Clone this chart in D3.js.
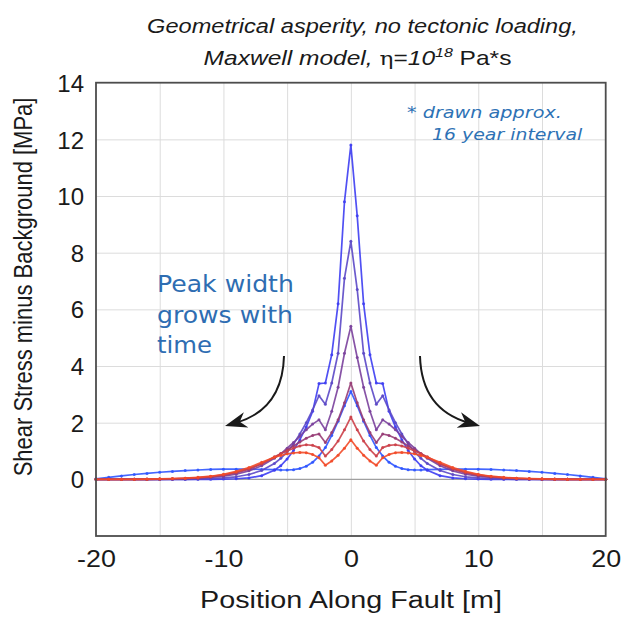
<!DOCTYPE html>
<html><head><meta charset="utf-8">
<script src="https://cdn.jsdelivr.net/npm/d3@7"></script>
<style>
html,body{margin:0;padding:0;background:#fff;}
svg{display:block;}
</style>
</head><body>
<svg id="chart" width="633" height="617"></svg>
<script>
// ---- data ----
const positions = [-20,-19,-18,-17,-16,-15,-14,-13,-12,-11,-10,-9,-8,-7,-6,-5.5,-5,-4.5,-4,-3.5,-3,-2.5,-2,-1.5,-1,-0.5,0,0.5,1,1.5,2,2.5,3,3.5,4,4.5,5,5.5,6,7,8,9,10,11,12,13,14,15,16,17,18,19,20];

const stressA = [0,0,0,0,0,0,0,0,0,0,0.01,0.02,0.05,0.13,0.32, 0.48,0.72,1.02,1.4,1.85,2.4,3.38,3.4,4.4,6.2,9.8, 11.8, 9.3,6.2,4.4,3.4,3.38,2.4,1.85,1.4,1.02,0.72,0.48, 0.32,0.13,0.05,0.02,0.01,0,0,0,0,0,0,0,0,0,0];
const stressB = [0,0,0,0,0,0,0,0,0.01,0.03,0.05,0.09,0.17,0.31,0.56, 0.74,0.97,1.25,1.6,2.0,2.45,2.95,2.65,3.4,4.45,7.1, 8.4, 6.7,4.45,3.4,2.65,2.95,2.45,2.0,1.6,1.25,0.97,0.74, 0.56,0.31,0.17,0.09,0.05,0.03,0.01,0,0,0,0,0,0,0,0];
const stressC = [0,0,0,0,0,0,0.01,0.02,0.04,0.07,0.11,0.18,0.3,0.48,0.74, 0.9,1.1,1.3,1.52,1.75,1.95,2.1,1.75,2.4,3.25,4.45, 5.4, 4.3,3.25,2.4,1.75,2.1,1.95,1.75,1.52,1.3,1.1,0.9, 0.74,0.48,0.3,0.18,0.11,0.07,0.04,0.02,0.01,0,0,0,0,0,0];
const stressD = [0,0,0,0,0,0.01,0.02,0.03,0.05,0.09,0.14,0.23,0.36,0.54,0.77, 0.9,1.04,1.18,1.32,1.45,1.55,1.6,1.3,1.65,2.1,2.7, 3.4, 2.7,2.1,1.65,1.3,1.6,1.55,1.45,1.32,1.18,1.04,0.9, 0.77,0.54,0.36,0.23,0.14,0.09,0.05,0.03,0.02,0.01,0,0,0,0,0];
const stressE = [0,0,0,0,0,0.01,0.02,0.04,0.06,0.1,0.16,0.25,0.38,0.55,0.8, 0.9,1.0,1.1,1.18,1.22,1.2,1.12,0.82,1.05,1.35,1.75, 2.2, 1.75,1.35,1.05,0.82,1.12,1.2,1.22,1.18,1.1,1.0,0.9, 0.8,0.55,0.38,0.25,0.16,0.1,0.06,0.04,0.02,0.01,0,0,0,0,0];
const stressF = [0,0,0,0,0.01,0.02,0.03,0.04,0.07,0.11,0.18,0.28,0.42,0.6,0.78, 0.84,0.9,0.93,0.95,0.94,0.88,0.76,0.5,0.65,0.85,1.1, 1.4, 1.1,0.85,0.65,0.5,0.76,0.88,0.94,0.95,0.93,0.9,0.84, 0.78,0.6,0.42,0.28,0.18,0.11,0.07,0.04,0.03,0.02,0.01,0,0,0,0];
const stressG = [0.02,0.07,0.12,0.17,0.21,0.25,0.28,0.31,0.33,0.35,0.36,0.36,0.36,0.35,0.34, 0.33,0.33,0.34,0.38,0.46,0.6,0.82,1.12,1.55,2.05,2.6, 3.1, 2.6,2.05,1.55,1.12,0.82,0.6,0.46,0.38,0.34,0.33,0.33, 0.34,0.35,0.36,0.36,0.36,0.35,0.33,0.31,0.28,0.25,0.21,0.17,0.12,0.07,0.02];

const seriesNames = ["G","A","B","C","D","E","F"];
const seriesValues = [stressG, stressA, stressB, stressC, stressD, stressE, stressF];
const seriesColors = ["#2f55ff","#3d3df2","#5b48c6","#7a409c","#973c76","#cc4049","#f24a28"];

const xTickValues = [-20,-10,0,10,20];
const xTickLabels = ["-20","-10","0","10","20"];
const xGridValues = [-15,-10,-5,0,5,10,15];
const yTickValues = [0,2,4,6,8,10,12,14];
const yTickLabels = ["0","2","4","6","8","10","12","14"];
const yGridValues = [2,4,6,8,10,12];

const titleLine1 = "Geometrical asperity, no tectonic loading,";
const noteLines = ["* drawn approx.", "16 year interval"];
const peakLines = ["Peak width", "grows with", "time"];
const xLabel = "Position Along Fault [m]";
const yLabel = "Shear Stress minus Background [MPa]";

// ---- layout ----
const svg = d3.select("#chart");
const L = 96, R = 605.7, T = 82.7, B = 536;
const x = d3.scaleLinear().domain([-20,20]).range([L,R]);
const y = d3.scaleLinear().domain([-2,14]).range([B,T]);

function fit(g, target){
  const t = g.select("text");
  const w = t.node().getBBox().width;
  t.attr("transform", `scale(${target/w},1)`);
}

// grid
const gridX = svg.append("g").attr("transform",`translate(0,${B})`)
  .call(d3.axisBottom(x).tickValues(xGridValues).tickSize(-(B-T)).tickFormat(""));
gridX.select(".domain").remove();
gridX.selectAll("line").attr("stroke","#dcdcdc").attr("stroke-width",1);
const gridY = svg.append("g").attr("transform",`translate(${L},0)`)
  .call(d3.axisLeft(y).tickValues(yGridValues).tickSize(-(R-L)).tickFormat(""));
gridY.select(".domain").remove();
gridY.selectAll("line").attr("stroke","#dcdcdc").attr("stroke-width",1);
// zero line
svg.append("line").attr("x1",L).attr("x2",R).attr("y1",y(0)).attr("y2",y(0))
  .attr("stroke","#a0a0a0").attr("stroke-width",1.3);

// curves
const line = d3.line().x((d,i)=>x(positions[i])).y(d=>y(d));
seriesValues.forEach((vals,k)=>{
  const g = svg.append("g").attr("class","series-"+seriesNames[k]);
  g.append("path").attr("d",line(vals)).attr("fill","none")
    .attr("stroke",seriesColors[k]).attr("stroke-width",1.7).attr("stroke-opacity",0.9)
    .attr("stroke-linejoin","round");
  g.selectAll("circle").data(vals).join("circle")
    .attr("cx",(d,i)=>x(positions[i])).attr("cy",d=>y(d)).attr("r",1.5)
    .attr("fill",seriesColors[k]).attr("fill-opacity",0.9);
});

// frame
svg.append("rect").attr("x",L).attr("y",T).attr("width",R-L).attr("height",B-T)
  .attr("fill","none").attr("stroke","#4d4d4d").attr("stroke-width",1.8);

// x tick labels
const xt = svg.append("g").attr("transform",`translate(0,${B})`)
  .call(d3.axisBottom(x).tickValues(xTickValues).tickSize(0).tickPadding(0)
    .tickFormat((d,i)=>xTickLabels[i]));
xt.select(".domain").remove();
xt.selectAll("text").attr("y",31).attr("dy",0).attr("font-family","Liberation Sans, Arial, sans-serif")
  .attr("font-size",24).attr("fill","#1a1a1a").attr("transform","scale(1.12,1)");
xt.selectAll(".tick").each(function(d){
  // keep scaled text centred on its tick
  const t = d3.select(this).select("text");
  t.attr("transform",null).attr("x",0);
  t.attr("transform","scale(1.12,1)");
});

// y tick labels
const yt = svg.append("g").attr("transform",`translate(${L},0)`)
  .call(d3.axisLeft(y).tickValues(yTickValues).tickSize(0).tickPadding(12)
    .tickFormat((d,i)=>yTickLabels[i]));
yt.select(".domain").remove();
yt.selectAll("text").attr("dy","0.36em").attr("font-family","Liberation Sans, Arial, sans-serif")
  .attr("font-size",24).attr("fill","#1a1a1a");

// axis labels
const gx = svg.append("g").attr("transform","translate(351,608)");
gx.append("text").attr("text-anchor","middle").attr("font-family","Liberation Sans, Arial, sans-serif")
  .attr("font-size",23).attr("fill","#1a1a1a").text(xLabel);
fit(gx, 302);

const gy = svg.append("g").attr("transform","translate(32,287) scale(1.15,1) rotate(-90)");
gy.append("text").attr("text-anchor","middle").attr("font-family","Liberation Sans, Arial, sans-serif")
  .attr("font-size",22).attr("fill","#1a1a1a").text(yLabel);

// title
const t1 = svg.append("g").attr("transform","translate(362.5,33)");
t1.append("text").attr("text-anchor","middle").attr("font-family","Liberation Sans, Arial, sans-serif")
  .attr("font-size",20).attr("font-style","italic").attr("fill","#1a1a1a").text(titleLine1);
fit(t1, 431);

const t2 = svg.append("g").attr("transform","translate(357.5,65)");
const tt = t2.append("text").attr("text-anchor","middle").attr("font-family","Liberation Sans, Arial, sans-serif")
  .attr("font-size",20).attr("fill","#1a1a1a");
tt.append("tspan").attr("font-style","italic").text("Maxwell model, ");
tt.append("tspan").attr("font-family","DejaVu Serif, serif").attr("font-size",19).text("\u03b7");
tt.append("tspan").text("=");
tt.append("tspan").attr("font-style","italic").text("10");
tt.append("tspan").attr("font-style","italic").attr("font-size",13).attr("dy",-8).text("18");
tt.append("tspan").attr("dy",8).text(" Pa*s");
fit(t2, 308);

// note
noteLines.forEach((s,i)=>{
  const xs0 = [407,432][i], ys0 = [118,140][i], ws = [155,151][i];
  const g = svg.append("g").attr("transform",`translate(${xs0},${ys0})`);
  g.append("text").attr("font-family","DejaVu Sans, Verdana, sans-serif").attr("font-style","italic")
    .attr("font-size",16).attr("fill","#2e72b5").text(s);
  fit(g, ws);
});

// peak text
peakLines.forEach((s,i)=>{
  const ys0 = [292,323,353][i], ws = [137,136,55][i];
  const g = svg.append("g").attr("transform",`translate(157,${ys0})`);
  g.append("text").attr("font-family","DejaVu Sans, Verdana, sans-serif")
    .attr("font-size",23).attr("fill","#2e6db2").text(s);
  fit(g, ws);
});

// arrows
function arrow(p0,c1,c2,p1){
  const path = d3.path();
  const dx = p1[0]-c2[0], dy = p1[1]-c2[1], len = Math.hypot(dx,dy);
  const ux = dx/len, uy = dy/len;
  const end = [p1[0]-ux*12, p1[1]-uy*12];
  path.moveTo(p0[0],p0[1]);
  path.bezierCurveTo(c1[0],c1[1],c2[0],c2[1],end[0],end[1]);
  svg.append("path").attr("d",path.toString()).attr("fill","none").attr("stroke","#1a1a1a").attr("stroke-width",2);
  const hl = 22, hw = 8;
  const bx = p1[0]-ux*hl, by = p1[1]-uy*hl;
  const nx = -uy, ny = ux;
  const notch = [p1[0]-ux*hl*0.7, p1[1]-uy*hl*0.7];
  const pts = [[p1[0],p1[1]],[bx+nx*hw,by+ny*hw],notch,[bx-nx*hw,by-ny*hw]];
  svg.append("path").attr("d","M"+pts.map(p=>p.join(",")).join("L")+"Z").attr("fill","#1a1a1a");
}
arrow([284,356],[283,392],[266,414],[225,426]);
arrow([420,356],[421,392],[438,414],[480,426]);
</script>
</body></html>
